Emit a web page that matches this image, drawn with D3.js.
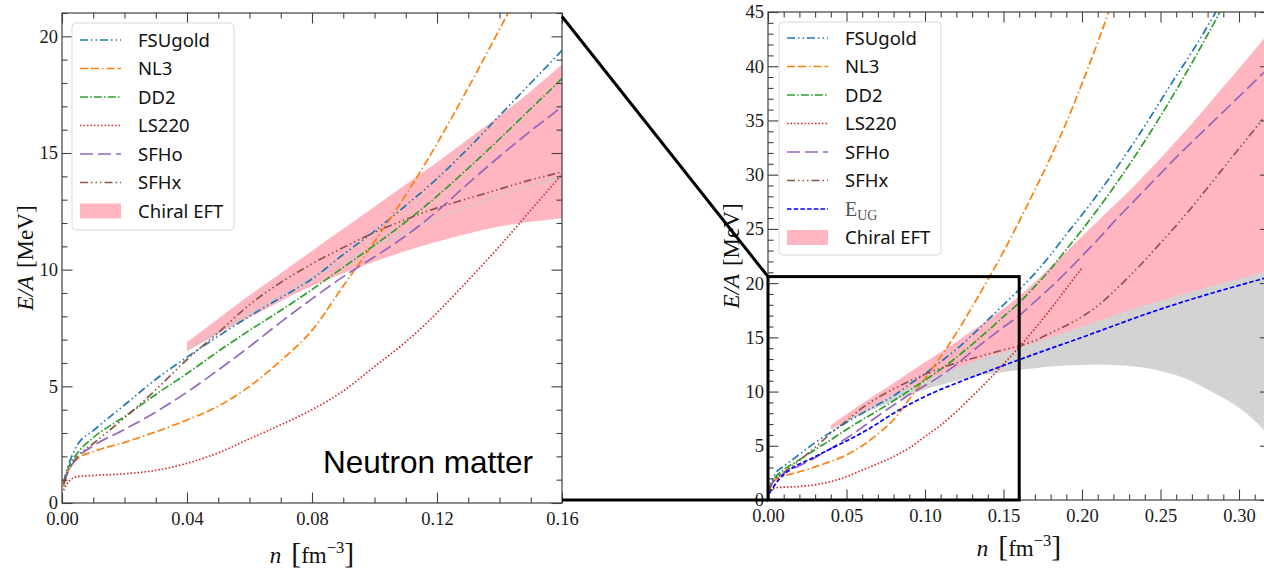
<!DOCTYPE html>
<html>
<head>
<meta charset="utf-8">
<script src="https://cdn.jsdelivr.net/npm/d3@7"></script>
<style>
  body { margin: 0; background: #fff; }
  svg { display: block; }
</style>
</head>
<body>
<svg id="fig" width="1264" height="569"></svg>
<script>
// ---------- data: energy per particle E/A [MeV] versus density n [fm^-3] ----------
const density = [0.0005, 0.002, 0.005, 0.01, 0.02, 0.03, 0.04, 0.05, 0.06, 0.07, 0.08, 0.09,
  0.10, 0.11, 0.12, 0.13, 0.14, 0.15, 0.16, 0.17, 0.18, 0.19, 0.20, 0.21, 0.22, 0.23, 0.24,
  0.25, 0.26, 0.27, 0.28, 0.29, 0.30, 0.31, 0.32];

const fsugold = [0.9, 1.6, 2.5, 3.1, 4.2, 5.3, 6.25, 7.15, 8.0, 8.8, 9.6, 10.65, 11.65, 12.75,
  13.9, 15.2, 16.6, 18.0, 19.4, 20.9, 22.6, 24.5, 26.3, 28.2, 30.2, 32.3, 34.5, 36.8, 39.1,
  41.3, 43.7, 46.2, 48.8, null, null];
const nl3 = [0.7, 1.4, 1.9, 2.2, 2.6, 3.05, 3.56, 4.15, 5.0, 6.1, 7.4, 9.3, 11.2, 13.2, 15.4,
  17.8, 20.3, 22.9, 25.7, 28.6, 31.6, 34.8, 38.4, 42.2, 46.2, null, null, null, null, null,
  null, null, null, null, null];
const dd2 = [0.85, 1.5, 2.15, 2.8, 3.7, 4.65, 5.55, 6.5, 7.4, 8.25, 9.15, 10.1, 11.05, 12.05,
  13.15, 14.35, 15.6, 16.9, 18.2, 19.7, 21.3, 23.1, 24.9, 26.8, 28.8, 30.9, 33.1, 35.4, 37.8,
  40.3, 42.9, 45.6, 48.4, null, null];
const ls220 = [0.55, 0.9, 1.13, 1.18, 1.25, 1.4, 1.7, 2.15, 2.75, 3.35, 4.0, 4.8, 5.85, 6.9,
  8.15, 9.55, 11.0, 12.55, 14.1, 15.8, 17.6, 19.5, 21.4, null, null, null, null, null, null,
  null, null, null, null, null, null];
const sfho = [0.8, 1.35, 1.95, 2.45, 3.15, 3.9, 4.75, 5.7, 6.7, 7.75, 8.75, 9.7, 10.55, 11.45,
  12.5, 13.7, 14.85, 15.95, 17.0, 18.3, 19.6, 21.0, 22.5, 24.0, 25.6, 27.1, 28.6, 30.1, 31.6,
  33.0, 34.4, 35.8, 37.2, 38.6, 40.0];
const sfhx = [0.8, 1.4, 2.0, 2.55, 3.65, 4.85, 6.15, 7.3, 8.5, 9.45, 10.25, 10.95, 11.6, 12.15,
  12.65, 13.05, 13.45, 13.85, 14.2, 14.7, 15.4, 16.1, 16.9, 17.9, 19.2, 20.6, 22.1, 23.7, 25.3,
  27.0, 28.8, 30.6, 32.4, 34.2, 36.0];

// unitary-gas bound
const eugDensity = [0, 0.001, 0.003, 0.007, 0.014, 0.028, 0.048, 0.063, 0.08, 0.10, 0.124,
  0.148, 0.165, 0.20, 0.25, 0.32];
const eugEnergy = [0, 0.6, 1.1, 1.9, 2.8, 3.85, 5.3, 6.45, 8.0, 9.55, 11.0, 12.3, 13.2, 15.0,
  17.6, 20.6];

// uncertainty bands
const bandDensity = [0.04, 0.05, 0.06, 0.07, 0.08, 0.09, 0.10, 0.11, 0.12, 0.13, 0.14, 0.15,
  0.16, 0.17, 0.18, 0.19, 0.20, 0.21, 0.22, 0.23, 0.24, 0.25, 0.26, 0.27, 0.28, 0.29, 0.30,
  0.31, 0.32];
const chiralLow = [6.5, 7.25, 7.95, 8.65, 9.3, 9.85, 10.35, 10.8, 11.2, 11.55, 11.85, 12.05,
  12.2, 12.35, 12.45, 12.55, 12.6, 12.65, 12.7, 12.75, 12.8, 12.85, 12.9, 12.95, 13.0, 13.05,
  13.1, 13.15, 13.2];
const chiralHigh = [6.9, 7.9, 8.9, 9.85, 10.8, 11.75, 12.7, 13.65, 14.6, 15.6, 16.6, 17.65,
  18.8, 20.1, 21.5, 22.9, 24.3, 25.7, 27.1, 28.5, 30.0, 31.5, 33.1, 34.7, 36.4, 38.1, 39.8,
  41.5, 43.3];
const greyLow = [6.5, 7.2, 7.9, 8.55, 9.15, 9.7, 10.2, 10.6, 11.0, 11.3, 11.6, 11.8, 12.0,
  12.15, 12.3, 12.4, 12.45, 12.5, 12.45, 12.35, 12.2, 11.9, 11.5, 10.95, 10.2, 9.4, 8.5, 7.3,
  5.8];
const greyHigh = [6.6, 7.35, 8.1, 8.9, 9.7, 10.35, 11.0, 11.6, 12.2, 12.7, 13.2, 13.6, 14.0,
  14.5, 15.0, 15.5, 16.0, 16.5, 17.0, 17.5, 17.95, 18.4, 18.8, 19.2, 19.6, 20.0, 20.4, 20.8,
  21.2];

// axis ticks
const leftXTicks = [0, 0.04, 0.08, 0.12, 0.16];
const leftYTicks = [0, 5, 10, 15, 20];
const rightXTicks = [0, 0.05, 0.10, 0.15, 0.20, 0.25, 0.30];
const rightYTicks = [0, 5, 10, 15, 20, 25, 30, 35, 40, 45];

const modelNames = ["FSUgold", "NL3", "DD2", "LS220", "SFHo", "SFHx"];
const modelValues = [fsugold, nl3, dd2, ls220, sfho, sfhx];
const modelColors = ["#1f77b4", "#ff7f0e", "#2ca02c", "#d62728", "#9467bd", "#8c564b"];
const modelDashes = ["8,3,1.5,3,1.5,3", "8,3,8,3,1.5,3", "8,2.2,1.5,2.2", "1.5,2",
  "13,5", "8,3,1.5,3,1.5,3,1.5,3"];

// ---------- drawing ----------
const svg = d3.select("#fig");
const SERIF = "'Liberation Serif', 'DejaVu Serif', serif";
const SANS = "'Noto Sans', 'DejaVu Sans', sans-serif";
const AX = "#404040";

const models = modelNames.map((name, i) => ({
  name,
  color: modelColors[i],
  dash: modelDashes[i],
  points: density.map((n, j) => ({ n, e: modelValues[i][j] }))
}));
const bandRows = (lo, hi) => bandDensity.map((n, j) => ({ n, lo: lo[j], hi: hi[j] }));

function range(a, b, step) {
  const out = [];
  for (let k = Math.round(a / step); k * step <= b + 1e-9; k++) out.push(+(k * step).toFixed(4));
  return out;
}

function drawAxes(g, x, y, p) {
  const [x0, x1] = x.range(), [y0, y1] = y.range();
  const xMinor = range(p.xDomain[0], p.xDomain[1], p.xMinor).filter(v => !p.xTicks.some(t => Math.abs(t - v) < 1e-6));
  const yMinor = range(p.yDomain[0], p.yDomain[1], p.yMinor).filter(v => !p.yTicks.some(t => Math.abs(t - v) < 1e-6));
  const MAJ = 10.5, MIN = 5.5;
  const axes = [
    [d3.axisBottom(x).tickValues(p.xTicks).tickSize(-MAJ).tickPadding(9).tickFormat(d3.format(".2f")), y0, 0, true],
    [d3.axisBottom(x).tickValues(xMinor).tickSize(-MIN).tickFormat(""), y0, 0, false],
    [d3.axisTop(x).tickValues(p.xTicks).tickSize(-MAJ).tickFormat(""), y1, 0, false],
    [d3.axisTop(x).tickValues(xMinor).tickSize(-MIN).tickFormat(""), y1, 0, false],
    [d3.axisLeft(y).tickValues(p.yTicks).tickSize(-MAJ).tickPadding(4).tickFormat(d3.format("d")), 0, x0, true],
    [d3.axisLeft(y).tickValues(yMinor).tickSize(-MIN).tickFormat(""), 0, x0, false],
    [d3.axisRight(y).tickValues(p.yTicks).tickSize(-MAJ).tickFormat(""), 0, x1, false],
    [d3.axisRight(y).tickValues(yMinor).tickSize(-MIN).tickFormat(""), 0, x1, false]
  ];
  axes.forEach(([ax, ty, tx, labels]) => {
    const a = g.append("g").attr("transform", `translate(${tx},${ty})`).call(ax.tickSizeOuter(0));
    a.select(".domain").remove();
    a.selectAll("line").attr("stroke", AX).attr("stroke-width", 1.1);
    if (labels) a.selectAll("text").attr("font-family", SERIF).attr("font-size", 18.5).attr("fill", "#1a1a1a");
  });
  g.append("rect").attr("x", x0).attr("y", y1).attr("width", x1 - x0).attr("height", y0 - y1)
    .attr("fill", "none").attr("stroke", AX).attr("stroke-width", 1.2);
}

function axisLabels(g, p) {
  // x label: n [fm^-3]
  const xl = g.append("text").attr("x", p.xLabel[0]).attr("y", p.xLabel[1])
    .attr("text-anchor", "middle").attr("font-family", SERIF).attr("font-size", p.labelSize).attr("fill", "#111");
  xl.append("tspan").attr("font-style", "italic").text("n");
  xl.append("tspan").attr("dx", 10).attr("font-size", p.labelSize * 1.3).text("[");
  xl.append("tspan").text("fm");
  xl.append("tspan").attr("dy", -p.labelSize * 0.42).attr("font-size", p.labelSize * 0.72).text("\u22123");
  xl.append("tspan").attr("dy", p.labelSize * 0.42).attr("font-size", p.labelSize * 1.3).text("]");
  // y label: E/A [MeV]
  const yl = g.append("text").attr("transform", `translate(${p.yLabel[0]},${p.yLabel[1]}) rotate(-90)`)
    .attr("text-anchor", "middle").attr("font-family", SERIF).attr("font-size", p.labelSize).attr("fill", "#111");
  yl.append("tspan").attr("font-style", "italic").text("E/A");
  yl.append("tspan").attr("dx", 8).text("[MeV]");
}

function legend(g, box, rows, lineX, textX, y0, step) {
  g.append("rect").attr("x", box[0]).attr("y", box[1]).attr("width", box[2]).attr("height", box[3])
    .attr("rx", 4).attr("fill", "#fff").attr("fill-opacity", 0.85).attr("stroke", "#d9d9d9").attr("stroke-width", 1);
  rows.forEach((r, i) => {
    const cy = y0 + i * step;
    if (r.patch) {
      g.append("rect").attr("x", lineX[0]).attr("y", cy - 7.5).attr("width", lineX[1] - lineX[0]).attr("height", 15)
        .attr("fill", r.patch);
    } else {
      g.append("line").attr("x1", lineX[0]).attr("x2", lineX[1]).attr("y1", cy).attr("y2", cy)
        .attr("stroke", r.color).attr("stroke-width", 1.7).attr("stroke-dasharray", r.dash);
    }
    const t = g.append("text").attr("x", textX).attr("y", cy).attr("dy", "0.36em");
    if (r.sub) {
      t.attr("font-family", SERIF).attr("font-size", 20).attr("fill", "#555");
      t.append("tspan").text(r.label);
      t.append("tspan").attr("dy", 4).attr("font-size", 14).text(r.sub);
    } else {
      t.attr("font-family", SANS).attr("font-size", 18.5).attr("fill", "#111").text(r.label);
    }
  });
}

function panel(p) {
  const g = svg.append("g");
  const x = d3.scaleLinear().domain(p.xDomain).range(p.xRange);
  const y = d3.scaleLinear().domain(p.yDomain).range(p.yRange);
  g.append("clipPath").attr("id", p.id).append("rect")
    .attr("x", p.xRange[0]).attr("y", p.yRange[1])
    .attr("width", p.xRange[1] - p.xRange[0]).attr("height", p.yRange[0] - p.yRange[1]);
  const plot = g.append("g").attr("clip-path", `url(#${p.id})`);

  const area = d3.area().x(d => x(d.n)).y0(d => y(d.lo)).y1(d => y(d.hi)).curve(d3.curveMonotoneX);
  const line = d3.line().defined(d => d.e != null).x(d => x(d.n)).y(d => y(d.e)).curve(d3.curveMonotoneX);

  plot.append("path").datum(bandRows(chiralLow, chiralHigh)).attr("d", area).attr("fill", "#ffb6c1");
  if (p.greyBand) {
    plot.append("path").datum(bandRows(greyLow, greyHigh)).attr("d", area).attr("fill", "#d3d3d3");
  } else {
    plot.append("path").datum(bandDensity.map((n, j) => ({ n, e: greyHigh[j] }))).attr("d", line)
      .attr("fill", "none").attr("stroke", "#c8c8c8").attr("stroke-width", 1.1);
  }
  models.forEach(m => {
    plot.append("path").datum(m.points).attr("d", line).attr("fill", "none")
      .attr("stroke", m.color).attr("stroke-width", 1.7).attr("stroke-dasharray", m.dash);
  });
  if (p.eug) {
    plot.append("path").datum(eugDensity.map((n, j) => ({ n, e: eugEnergy[j] }))).attr("d", line)
      .attr("fill", "none").attr("stroke", "#0000ff").attr("stroke-width", 1.7).attr("stroke-dasharray", "4.5,2.2");
  }
  drawAxes(g, x, y, p);
  axisLabels(g, p);
  const rows = models.map(m => ({ label: m.name, color: m.color, dash: m.dash }));
  if (p.eug) rows.push({ label: "E", sub: "UG", color: "#0000ff", dash: "4.5,2.2" });
  rows.push({ label: "Chiral EFT", patch: "#ffb6c1" });
  legend(g, p.legendBox, rows, p.legendLine, p.legendText, p.legendY0, 28.5);
  return { g, x, y };
}

const left = panel({
  id: "clipLeft", xDomain: [0, 0.16], yDomain: [0, 21], xRange: [62, 562], yRange: [503, 13],
  xTicks: leftXTicks, yTicks: leftYTicks, xMinor: 0.01, yMinor: 1,
  greyBand: false, eug: false, labelSize: 23,
  xLabel: [312, 563], yLabel: [33, 258],
  legendBox: [72, 23, 162, 207], legendLine: [80, 121], legendText: [138][0], legendY0: 40
});
left.g.append("text").attr("x", 323).attr("y", 473).attr("font-family", "'Liberation Sans', Arial, sans-serif")
  .attr("font-size", 31.5).attr("fill", "#000").text("Neutron matter");

const right = panel({
  id: "clipRight", xDomain: [0, 0.32], yDomain: [0, 45], xRange: [768, 768 + 0.32 * 1570], yRange: [500, 12],
  xTicks: rightXTicks, yTicks: rightYTicks, xMinor: 0.01, yMinor: 1,
  greyBand: true, eug: true, labelSize: 23,
  xLabel: [1019, 556], yLabel: [739, 256],
  legendBox: [779, 22, 162, 233], legendLine: [787, 828], legendText: 845, legendY0: 38
});

// zoom window on the wide-range panel and its connectors to the left panel
const zoomBox = { n: [0, 0.16], e: [0, 20.6] };
const over = svg.append("g").attr("stroke", "#000").attr("stroke-width", 3).attr("fill", "none");
over.append("rect")
  .attr("x", right.x(zoomBox.n[0])).attr("y", right.y(zoomBox.e[1]))
  .attr("width", right.x(zoomBox.n[1]) - right.x(zoomBox.n[0]))
  .attr("height", right.y(zoomBox.e[0]) - right.y(zoomBox.e[1]));
over.append("line").attr("x1", left.x(0.16)).attr("y1", left.y(20.85))
  .attr("x2", right.x(zoomBox.n[0])).attr("y2", right.y(zoomBox.e[1]));
over.append("line").attr("x1", left.x(0.16)).attr("y1", left.y(0.13))
  .attr("x2", right.x(zoomBox.n[0])).attr("y2", right.y(zoomBox.e[0]));
</script>
</body>
</html>
